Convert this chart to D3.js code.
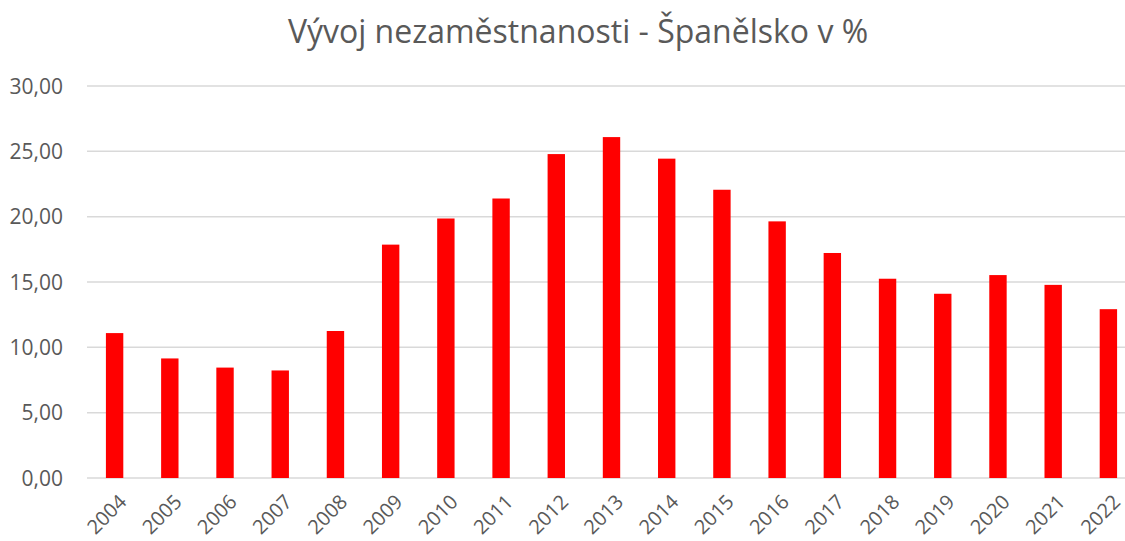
<!DOCTYPE html>
<html>
<head>
<meta charset="utf-8">
<script src="https://cdn.jsdelivr.net/npm/d3@7"></script>
<style>
  body { margin: 0; background: #fff; }
  svg { display: block; font-family: "Open Sans", sans-serif; }
</style>
</head>
<body>
<div id="chart"></div>
<script>
// data
const years = ["2004", "2005", "2006", "2007", "2008", "2009", "2010", "2011", "2012", "2013",
               "2014", "2015", "2016", "2017", "2018", "2019", "2020", "2021", "2022"];
const rates = [11.09, 9.15, 8.45, 8.23, 11.25, 17.86, 19.86, 21.39, 24.79, 26.09,
               24.44, 22.06, 19.64, 17.22, 15.25, 14.10, 15.53, 14.78, 12.92];
const yTicks = [0, 5, 10, 15, 20, 25, 30];

const width = 1125, height = 541;
const margin = { top: 86, right: -11, bottom: 63, left: 87 };

const svg = d3.select("#chart").append("svg")
    .attr("width", width)
    .attr("height", height);

const x = d3.scaleBand()
    .domain(years)
    .range([margin.left, width - margin.right])
    .paddingInner(0.685)
    .paddingOuter(0.3425);

const y = d3.scaleLinear()
    .domain([0, 30])
    .range([height - margin.bottom, margin.top]);

const fmt = d => d3.format(".2f")(d).replace(".", ",");

// gridlines
svg.append("g")
  .selectAll("line")
  .data(yTicks)
  .enter().append("line")
    .attr("x1", margin.left)
    .attr("x2", width)
    .attr("y1", d => y(d))
    .attr("y2", d => y(d))
    .attr("stroke", "#d9d9d9")
    .attr("stroke-width", 1.5);

// y labels
svg.append("g")
  .selectAll("text")
  .data(yTicks)
  .enter().append("text")
    .attr("x", 63)
    .attr("y", d => y(d))
    .attr("dy", "0.36em")
    .attr("text-anchor", "end")
    .attr("fill", "#595959")
    .attr("font-size", 21)
    .text(fmt);

// bars
svg.append("g")
  .selectAll("rect")
  .data(years)
  .enter().append("rect")
    .attr("x", d => x(d))
    .attr("width", x.bandwidth())
    .attr("y", (d, i) => y(rates[i]))
    .attr("height", (d, i) => y(0) - y(rates[i]))
    .attr("fill", "#ff0000");

// x labels, rotated
svg.append("g")
  .selectAll("text")
  .data(years)
  .enter().append("text")
    .attr("transform", d => "translate(" + (x(d) + x.bandwidth() / 2 + 3) + "," + 493 + ") rotate(-45)")
    .attr("text-anchor", "end")
    .attr("dy", "0.72em")
    .attr("fill", "#595959")
    .attr("font-size", 20)
    .text(d => d);

// title
svg.append("text")
    .attr("x", 578)
    .attr("y", 43)
    .attr("text-anchor", "middle")
    .attr("fill", "#595959")
    .attr("font-size", 32)
    .text("Vývoj nezaměstnanosti - Španělsko v %");
</script>
</body>
</html>
